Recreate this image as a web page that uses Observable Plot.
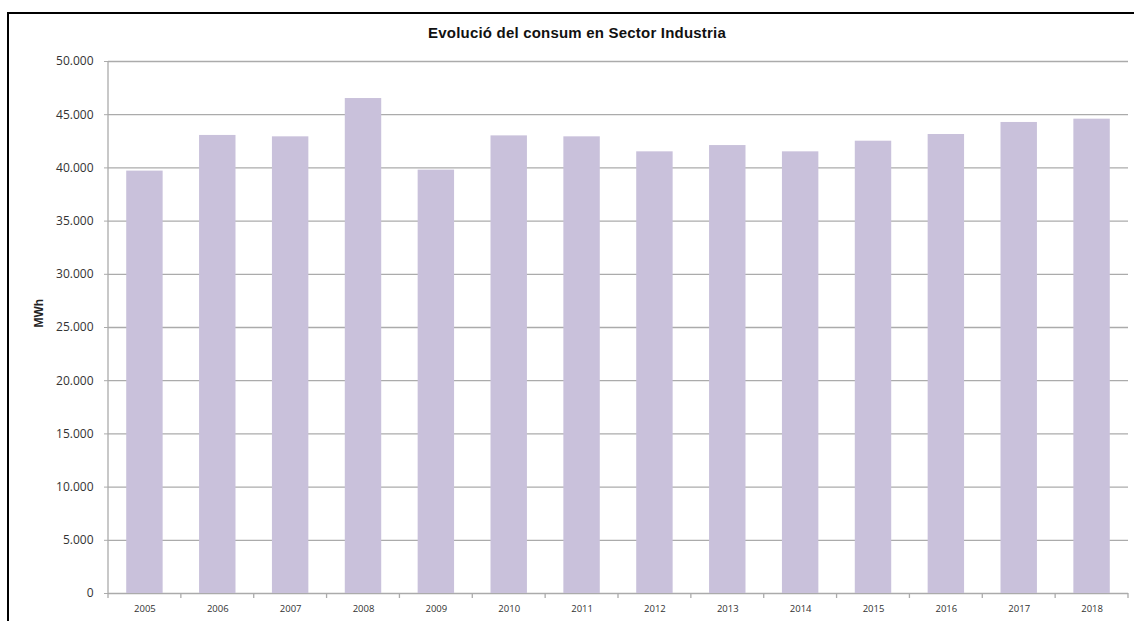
<!DOCTYPE html>
<html>
<head>
<meta charset="utf-8">
<script src="https://cdn.jsdelivr.net/npm/d3@7"></script>
<script src="https://cdn.jsdelivr.net/npm/@observablehq/plot@0.6"></script>
<style>
  html, body { margin: 0; padding: 0; background: #fff; overflow: hidden; width: 1134px; height: 621px; }
  #wrap { position: relative; width: 1134px; height: 621px; overflow: hidden; }
  #frame { position: absolute; left: 7px; top: 12px; width: 1127px; height: 609px; border-left: 2px solid #000; border-top: 2px solid #000; box-sizing: border-box; }
  #title { position: absolute; left: 0; width: 1154px; top: 24px; text-align: center; font: bold 15px "Liberation Sans", Arial, sans-serif; letter-spacing: 0.2px; color: #111; }
  #chart { position: absolute; left: 0; top: 0; }
  #chart svg { display: block; }
</style>
</head>
<body>
<div id="wrap">
  <div id="frame"></div>
  <div id="chart"></div>
  <div id="title">Evolució del consum en Sector Industria</div>
</div>
<script>
const years = ["2005","2006","2007","2008","2009","2010","2011","2012","2013","2014","2015","2016","2017","2018"];
const consum = [39700, 43050, 42920, 46520, 39790, 43010, 42920, 41510, 42100, 41510, 42510, 43140, 44270, 44580];
const yTicks = [0, 5000, 10000, 15000, 20000, 25000, 30000, 35000, 40000, 45000, 50000];
const yLabel = "MWh";

const data = years.map((y, i) => ({year: y, value: consum[i]}));
const fmt = d => d3.format(",")(d).replace(/,/g, ".");
const gridColor = "#ababab";
const barColor = "#c9c1db";

// left axis line and x tick marks at category boundaries (Excel style)
function axisLines(index, scales, values, dimensions) {
  const x = scales.x;
  const step = x.step();
  const bw = x.bandwidth();
  const gap = (step - bw) / 2;
  const yb = dimensions.height - dimensions.marginBottom;
  const yt = dimensions.marginTop;
  const xl = dimensions.marginLeft;
  const g = d3.create("svg:g").attr("stroke", gridColor).attr("stroke-width", 1.3);
  g.append("line").attr("x1", xl).attr("x2", xl).attr("y1", yt).attr("y2", yb);
  const xs = years.map(y => x(y) - gap);
  xs.push(x(years[years.length - 1]) + bw + gap);
  for (const px of xs) {
    g.append("line").attr("x1", px).attr("x2", px).attr("y1", yb).attr("y2", yb + 5);
  }
  return g.node();
}

const chart = Plot.plot({
  width: 1134,
  height: 621,
  marginLeft: 108,
  marginRight: 6,
  marginTop: 61,
  marginBottom: 28,
  style: { fontFamily: "'Open Sans', sans-serif", fontSize: "12px", color: "#333", background: "transparent", overflow: "hidden" },
  x: { domain: years, paddingInner: 0.5, paddingOuter: 0.25, round: false, label: null },
  y: { domain: [0, 50000], label: null },
  marks: [
    Plot.gridY(yTicks, { stroke: gridColor, strokeOpacity: 1, strokeWidth: 1.3 }),
    Plot.barY(data, { x: "year", y: "value", fill: barColor }),
    Plot.axisY(yTicks, { tickFormat: fmt, tickSize: 4, tickPadding: 11, stroke: gridColor, fontSize: 12, fill: "#333" }),
    Plot.axisX({ tickSize: 0, tickPadding: 12, fontSize: 9.5, fill: "#333" }),
    axisLines,
    Plot.text([yLabel], { frameAnchor: "left", dx: -69, rotate: -90, text: d => d, fontWeight: "bold", fontSize: 12, fill: "#222", fontFamily: "'Liberation Sans', sans-serif" })
  ]
});
document.getElementById("chart").appendChild(chart);
</script>
</body>
</html>
